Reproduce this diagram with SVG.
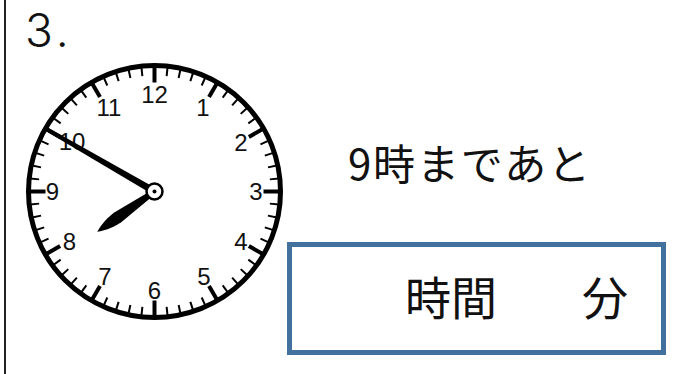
<svg xmlns="http://www.w3.org/2000/svg" xmlns:xlink="http://www.w3.org/1999/xlink" width="677" height="374" viewBox="0 0 677 374">
<style>
.num{font-family:"Liberation Sans",Arial,sans-serif;font-size:24px;fill:#111;text-anchor:middle}
.jp{font-family:"Noto Sans CJK JP","Noto Sans",sans-serif;fill:#111}
.mt{stroke:#000;stroke-width:2}
.ht{stroke:#000;stroke-width:4}
</style>
<defs>
<line id="mtick" class="mt" x1="154.5" y1="66.5" x2="154.5" y2="75.5"/>
<line id="htick" class="ht" x1="154.5" y1="66.5" x2="154.5" y2="82.5"/>
</defs>
<rect width="677" height="374" fill="#fff"/>
<line x1="5" y1="0" x2="5" y2="374" stroke="#222" stroke-width="2"/>
<g id="label">
<text x="25" y="47" font-family="Inter,'Open Sans','Liberation Sans',sans-serif" font-weight="300" font-size="46" fill="#111">3<tspan dx="4">.</tspan></text>
</g>
<g id="clock">
<circle cx="154.5" cy="191.5" r="126" fill="#fff" stroke="#000" stroke-width="5"/>
<g id="ticks">
<use xlink:href="#htick"/>
<use xlink:href="#mtick" transform="rotate(6 154.5 191.5)"/>
<use xlink:href="#mtick" transform="rotate(12 154.5 191.5)"/>
<use xlink:href="#mtick" transform="rotate(18 154.5 191.5)"/>
<use xlink:href="#mtick" transform="rotate(24 154.5 191.5)"/>
<use xlink:href="#htick" transform="rotate(30 154.5 191.5)"/>
<use xlink:href="#mtick" transform="rotate(36 154.5 191.5)"/>
<use xlink:href="#mtick" transform="rotate(42 154.5 191.5)"/>
<use xlink:href="#mtick" transform="rotate(48 154.5 191.5)"/>
<use xlink:href="#mtick" transform="rotate(54 154.5 191.5)"/>
<use xlink:href="#htick" transform="rotate(60 154.5 191.5)"/>
<use xlink:href="#mtick" transform="rotate(66 154.5 191.5)"/>
<use xlink:href="#mtick" transform="rotate(72 154.5 191.5)"/>
<use xlink:href="#mtick" transform="rotate(78 154.5 191.5)"/>
<use xlink:href="#mtick" transform="rotate(84 154.5 191.5)"/>
<use xlink:href="#htick" transform="rotate(90 154.5 191.5)"/>
<use xlink:href="#mtick" transform="rotate(96 154.5 191.5)"/>
<use xlink:href="#mtick" transform="rotate(102 154.5 191.5)"/>
<use xlink:href="#mtick" transform="rotate(108 154.5 191.5)"/>
<use xlink:href="#mtick" transform="rotate(114 154.5 191.5)"/>
<use xlink:href="#htick" transform="rotate(120 154.5 191.5)"/>
<use xlink:href="#mtick" transform="rotate(126 154.5 191.5)"/>
<use xlink:href="#mtick" transform="rotate(132 154.5 191.5)"/>
<use xlink:href="#mtick" transform="rotate(138 154.5 191.5)"/>
<use xlink:href="#mtick" transform="rotate(144 154.5 191.5)"/>
<use xlink:href="#htick" transform="rotate(150 154.5 191.5)"/>
<use xlink:href="#mtick" transform="rotate(156 154.5 191.5)"/>
<use xlink:href="#mtick" transform="rotate(162 154.5 191.5)"/>
<use xlink:href="#mtick" transform="rotate(168 154.5 191.5)"/>
<use xlink:href="#mtick" transform="rotate(174 154.5 191.5)"/>
<use xlink:href="#htick" transform="rotate(180 154.5 191.5)"/>
<use xlink:href="#mtick" transform="rotate(186 154.5 191.5)"/>
<use xlink:href="#mtick" transform="rotate(192 154.5 191.5)"/>
<use xlink:href="#mtick" transform="rotate(198 154.5 191.5)"/>
<use xlink:href="#mtick" transform="rotate(204 154.5 191.5)"/>
<use xlink:href="#htick" transform="rotate(210 154.5 191.5)"/>
<use xlink:href="#mtick" transform="rotate(216 154.5 191.5)"/>
<use xlink:href="#mtick" transform="rotate(222 154.5 191.5)"/>
<use xlink:href="#mtick" transform="rotate(228 154.5 191.5)"/>
<use xlink:href="#mtick" transform="rotate(234 154.5 191.5)"/>
<use xlink:href="#htick" transform="rotate(240 154.5 191.5)"/>
<use xlink:href="#mtick" transform="rotate(246 154.5 191.5)"/>
<use xlink:href="#mtick" transform="rotate(252 154.5 191.5)"/>
<use xlink:href="#mtick" transform="rotate(258 154.5 191.5)"/>
<use xlink:href="#mtick" transform="rotate(264 154.5 191.5)"/>
<use xlink:href="#htick" transform="rotate(270 154.5 191.5)"/>
<use xlink:href="#mtick" transform="rotate(276 154.5 191.5)"/>
<use xlink:href="#mtick" transform="rotate(282 154.5 191.5)"/>
<use xlink:href="#mtick" transform="rotate(288 154.5 191.5)"/>
<use xlink:href="#mtick" transform="rotate(294 154.5 191.5)"/>
<use xlink:href="#htick" transform="rotate(300 154.5 191.5)"/>
<use xlink:href="#mtick" transform="rotate(306 154.5 191.5)"/>
<use xlink:href="#mtick" transform="rotate(312 154.5 191.5)"/>
<use xlink:href="#mtick" transform="rotate(318 154.5 191.5)"/>
<use xlink:href="#mtick" transform="rotate(324 154.5 191.5)"/>
<use xlink:href="#htick" transform="rotate(330 154.5 191.5)"/>
<use xlink:href="#mtick" transform="rotate(336 154.5 191.5)"/>
<use xlink:href="#mtick" transform="rotate(342 154.5 191.5)"/>
<use xlink:href="#mtick" transform="rotate(348 154.5 191.5)"/>
<use xlink:href="#mtick" transform="rotate(354 154.5 191.5)"/>
</g>
<g id="numbers">
<text class="num" x="154.5" y="102.5">12</text>
<text class="num" x="203" y="116">1</text>
<text class="num" x="241" y="151">2</text>
<text class="num" x="256" y="200">3</text>
<text class="num" x="241" y="249.5">4</text>
<text class="num" x="204" y="284.5">5</text>
<text class="num" x="154.5" y="298.5">6</text>
<text class="num" x="105" y="284.5">7</text>
<text class="num" x="69.5" y="249.5">8</text>
<text class="num" x="52.5" y="200">9</text>
<text class="num" x="72" y="149.5">10</text>
<text class="num" x="109" y="116">11</text>
</g>
<g id="hands">
<polygon points="156.3,188.5 152.8,194.6 46.1,131.2 48.1,127.8" fill="#000"/>
<path d="M155.9,193.6 L121.2,222.3 C110.2,229.4 101.7,231.2 97.2,231.8 C99.4,227.9 103.9,220.4 114.2,212.5 L153.1,189.5 Z" fill="#000"/>
<circle cx="154.5" cy="191.5" r="8" fill="#fff" stroke="#000" stroke-width="2.5"/>
<circle cx="154.5" cy="191.5" r="2" fill="#000"/>
</g>
</g>
<g id="question">
<text class="jp" x="348" y="180" font-size="42" textLength="242" lengthAdjust="spacing">9時まであと</text>
</g>
<g id="answer-box">
<rect x="289.5" y="244.5" width="374" height="108" fill="#fff" stroke="#41719c" stroke-width="5"/>
<text class="jp" x="405" y="315" font-size="46">時間</text>
<text class="jp" x="582" y="315" font-size="46">分</text>
</g>
</svg>
